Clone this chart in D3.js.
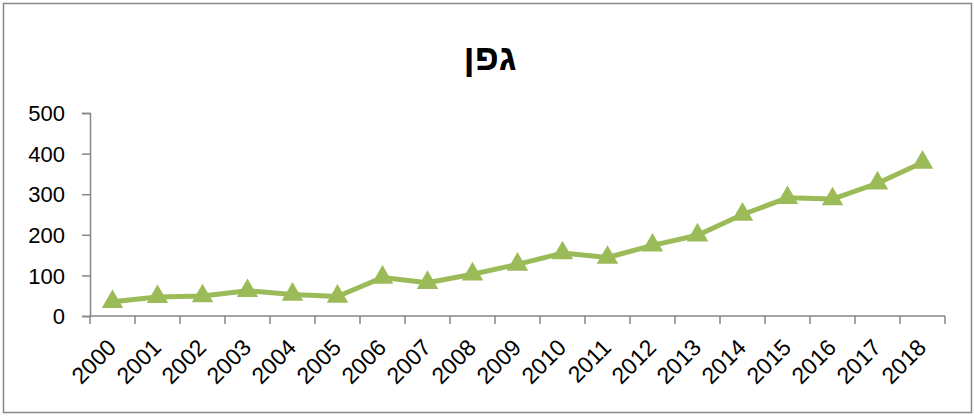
<!DOCTYPE html>
<html>
<head>
<meta charset="utf-8">
<script src="https://cdn.jsdelivr.net/npm/d3@7"></script>
<style>
  body { margin: 0; background: #fff; }
  text { font-family: "Liberation Sans", Arial, sans-serif; fill: #000; }
</style>
</head>
<body>
<svg id="chart" width="974" height="416"></svg>
<script>
const years = ["2000","2001","2002","2003","2004","2005","2006","2007","2008","2009",
  "2010","2011","2012","2013","2014","2015","2016","2017","2018"];
const values = [35, 47, 49, 62, 53, 48, 95, 82, 103, 127, 155, 144, 174, 199, 250, 291, 288, 327, 378];
const yTicks = [0, 100, 200, 300, 400, 500];
const title = "גפן";

const GREEN = "#9BBB59";
const AXIS_GRAY = "#868686";

const margin = {left: 90, right: 29, top: 113, bottom: 100};
const width = 974 - margin.left - margin.right;
const height = 416 - margin.top - margin.bottom;

const svg = d3.select("#chart");

// outer chart frame
svg.append("rect")
  .attr("x", 3.5).attr("y", 3.5)
  .attr("width", 968).attr("height", 409)
  .attr("fill", "#fff")
  .attr("stroke", AXIS_GRAY)
  .attr("stroke-width", 1.5);

svg.append("text")
  .attr("x", 490)
  .attr("y", 70)
  .attr("text-anchor", "middle")
  .attr("font-size", 37)
  .attr("font-weight", "bold")
  .text(title);

const g = svg.append("g")
  .attr("transform", `translate(${margin.left},${margin.top})`);

const x = d3.scaleBand().domain(years).range([0, width]);
const y = d3.scaleLinear().domain([0, 500]).range([height, 0]);

const yAxis = d3.axisLeft(y).tickValues(yTicks).tickSize(8).tickPadding(17);
const yG = g.append("g").call(yAxis);
yG.select(".domain").attr("stroke", AXIS_GRAY).attr("stroke-width", 1.5);
yG.selectAll(".tick line").attr("stroke", AXIS_GRAY).attr("stroke-width", 1.5);
yG.selectAll("text").attr("font-size", 22).attr("dy", "0.35em");

// x axis: ticks on band boundaries
const xG = g.append("g").attr("transform", `translate(0,${height})`);
xG.append("line")
  .attr("x1", 0).attr("x2", width)
  .attr("stroke", AXIS_GRAY).attr("stroke-width", 1.5);
xG.selectAll(".xtick")
  .data(years.concat(["end"]))
  .join("line")
  .attr("class", "xtick")
  .attr("x1", (d, i) => i * x.bandwidth())
  .attr("x2", (d, i) => i * x.bandwidth())
  .attr("y1", 0).attr("y2", 8)
  .attr("stroke", AXIS_GRAY).attr("stroke-width", 1.5);
xG.selectAll(".xlabel")
  .data(years)
  .join("text")
  .attr("class", "xlabel")
  .attr("font-size", 23)
  .attr("text-anchor", "end")
  .attr("transform", d => `translate(${x(d) + x.bandwidth() / 2 + 5},${33}) rotate(-45)`)
  .text(d => d);

const line = d3.line()
  .x((d, i) => x(years[i]) + x.bandwidth() / 2)
  .y(d => y(d));

g.append("path")
  .datum(values)
  .attr("fill", "none")
  .attr("stroke", GREEN)
  .attr("stroke-width", 5)
  .attr("stroke-linejoin", "round")
  .attr("d", line);

const tri = d3.symbol().type(d3.symbolTriangle).size(200);
g.selectAll(".marker")
  .data(values)
  .join("path")
  .attr("class", "marker")
  .attr("fill", GREEN)
  .attr("transform", (d, i) => `translate(${x(years[i]) + x.bandwidth() / 2},${y(d)})`)
  .attr("d", tri);
</script>
</body>
</html>
